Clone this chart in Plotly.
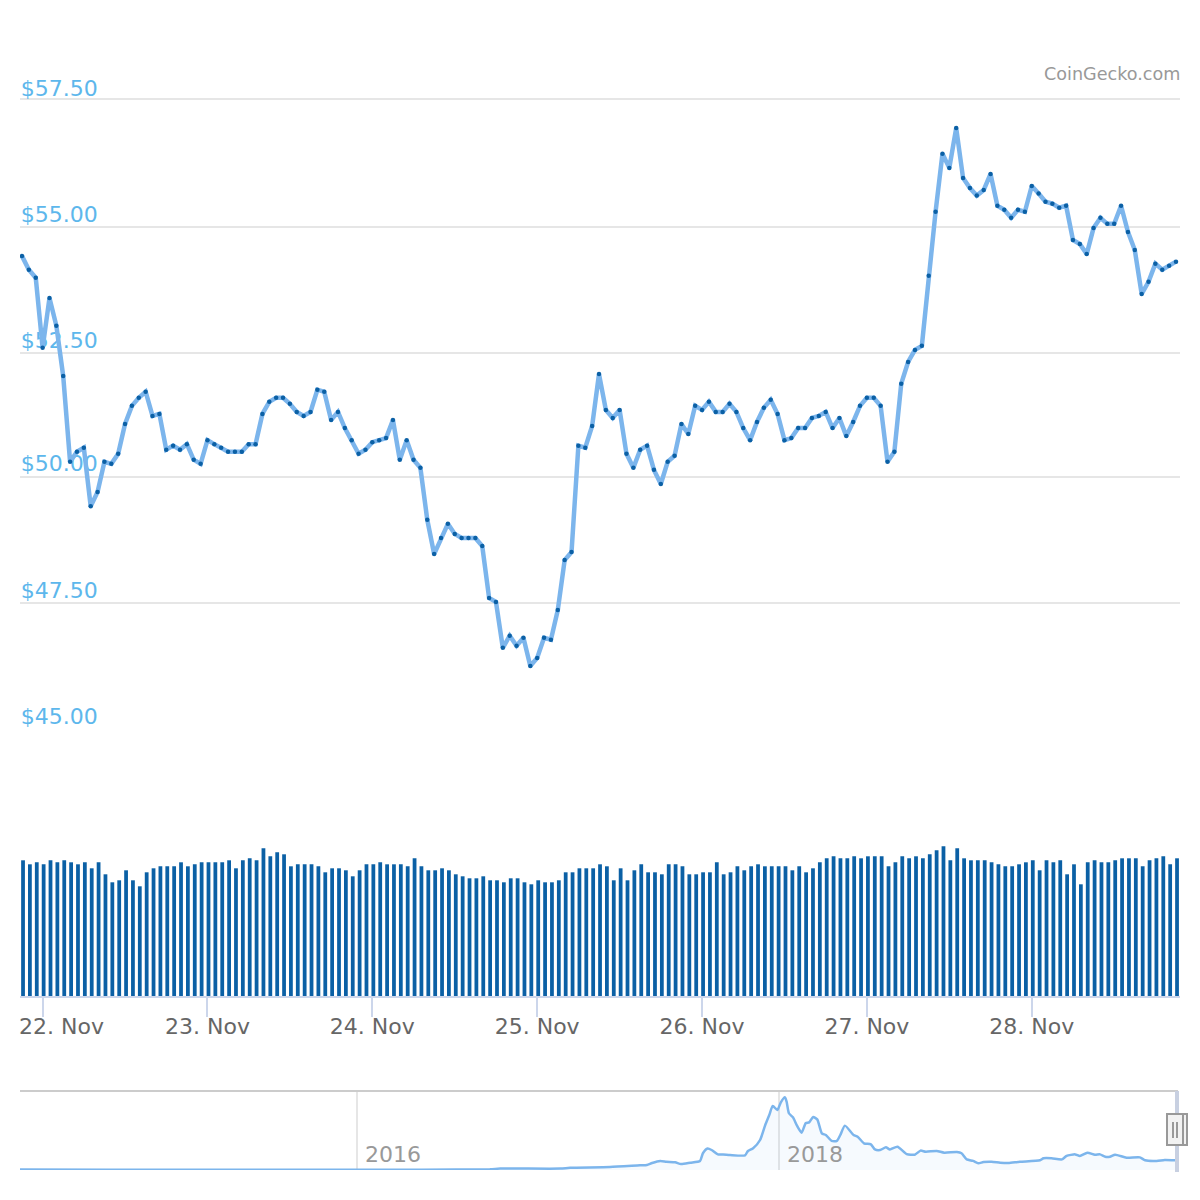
import pandas as pd
import plotly.graph_objects as go

# the page adds an 8px body margin, so the figure is 16px smaller than the window
WIDTH = 1184
HEIGHT = 1184
PAGE_MARGIN = 8

# hourly price
price = [
    54.38, 54.11, 53.95, 52.56, 53.55, 53.00, 52.00, 50.30, 50.50, 50.58,
    49.42, 49.70, 50.30, 50.26, 50.46, 51.05, 51.41, 51.57, 51.69, 51.21,
    51.25, 50.54, 50.62, 50.54, 50.65, 50.34, 50.26, 50.73, 50.65, 50.58,
    50.50, 50.50, 50.50, 50.65, 50.65, 51.25, 51.49, 51.57, 51.57, 51.45,
    51.29, 51.21, 51.29, 51.73, 51.69, 51.13, 51.29, 50.97, 50.73, 50.46,
    50.54, 50.69, 50.73, 50.77, 51.13, 50.34, 50.73, 50.34, 50.18, 49.15,
    48.47, 48.79, 49.07, 48.87, 48.79, 48.79, 48.79, 48.63, 47.60, 47.52,
    46.61, 46.85, 46.65, 46.81, 46.25, 46.41, 46.81, 46.77, 47.36, 48.35,
    48.51, 50.62, 50.58, 51.01, 52.04, 51.33, 51.17, 51.33, 50.46, 50.18,
    50.54, 50.62, 50.14, 49.86, 50.30, 50.42, 51.05, 50.85, 51.41, 51.33,
    51.49, 51.29, 51.29, 51.45, 51.29, 50.97, 50.73, 51.09, 51.37, 51.53,
    51.25, 50.73, 50.77, 50.97, 50.97, 51.17, 51.21, 51.29, 50.97, 51.17,
    50.81, 51.09, 51.41, 51.57, 51.57, 51.41, 50.30, 50.50, 51.85, 52.28,
    52.52, 52.60, 53.99, 55.26, 56.41, 56.13, 56.92, 55.93, 55.73, 55.58,
    55.69, 56.01, 55.38, 55.30, 55.14, 55.30, 55.26, 55.77, 55.62, 55.46,
    55.42, 55.34, 55.38, 54.70, 54.62, 54.42, 54.94, 55.14, 55.02, 55.02,
    55.38, 54.86, 54.50, 53.63, 53.87, 54.23, 54.11, 54.19, 54.27,
]

# the volume axis has no scale in the picture, so these are relative heights
volume = [
    135.7, 131.7, 133.7, 131.7, 135.7, 133.7, 135.7, 133.7, 131.7, 133.7,
    127.7, 133.7, 121.7, 113.7, 115.7, 125.7, 115.7, 109.7, 123.7, 127.7,
    129.7, 129.7, 129.7, 133.7, 129.7, 131.7, 133.7, 133.7, 133.7, 133.7,
    135.7, 127.7, 135.7, 137.7, 135.7, 147.7, 139.7, 143.7, 141.7, 129.7,
    131.7, 131.7, 131.7, 129.7, 123.7, 127.7, 127.7, 125.7, 119.7, 125.7,
    131.7, 131.7, 133.7, 131.7, 131.7, 131.7, 129.7, 137.7, 129.7, 125.7,
    125.7, 127.7, 125.7, 121.7, 119.7, 117.7, 117.7, 119.7, 115.7, 115.7,
    113.7, 117.7, 117.7, 113.7, 111.7, 115.7, 113.7, 113.7, 115.7, 123.7,
    123.7, 127.7, 127.7, 127.7, 131.7, 129.7, 115.7, 127.7, 115.7, 125.7,
    131.7, 123.7, 123.7, 121.7, 131.7, 131.7, 129.7, 121.7, 121.7, 123.7,
    123.7, 133.7, 121.7, 123.7, 129.7, 125.7, 129.7, 131.7, 129.7, 129.7,
    129.7, 129.7, 125.7, 129.7, 123.7, 127.7, 133.7, 137.7, 139.7, 137.7,
    137.7, 139.7, 137.7, 139.7, 139.7, 139.7, 129.7, 133.7, 139.7, 137.7,
    139.7, 137.7, 141.7, 145.7, 149.7, 135.7, 147.7, 137.7, 135.7, 135.7,
    135.7, 133.7, 131.7, 129.7, 129.7, 131.7, 133.7, 135.7, 125.7, 135.7,
    133.7, 135.7, 121.7, 131.7, 111.7, 133.7, 135.7, 133.7, 133.7, 135.7,
    137.7, 137.7, 137.7, 129.7, 135.7, 137.7, 139.7, 131.7, 137.7,
]

price_ticks = [45, 47.5, 50, 52.46, 54.96, 57.5]
price_labels = ["$45.00", "$47.50", "$50.00", "$52.50", "$55.00", "$57.50"]

day_ticks = ["2019-11-22", "2019-11-23", "2019-11-24", "2019-11-25",
             "2019-11-26", "2019-11-27", "2019-11-28"]
day_labels = ["22. Nov", "23. Nov", "24. Nov", "25. Nov", "26. Nov", "27. Nov", "28. Nov"]

# navigator: whole price history, days counted from 1 Jan 2016
nav_days = [
    -584, -428, -272, 5, 230, 248, 352, 369, 438, 490, 502, 511, 525, 536, 551,
    561, 577, 594, 599, 607, 614, 625, 634, 646, 672, 677, 686, 698, 707, 714,
    720, 728, 734, 741, 744, 748, 755, 762, 770, 777, 783, 790, 797, 805, 812,
    822, 831, 837, 845, 860, 867, 878, 890, 897, 906, 916, 923, 936, 952, 966,
    976, 985, 1004, 1017, 1039, 1047, 1056, 1067, 1076, 1085, 1099, 1114, 1128,
    1148, 1183, 1189, 1203, 1221, 1229, 1244, 1252, 1265, 1278, 1287, 1296,
    1304, 1313, 1333, 1356, 1365, 1385, 1399, 1417,
]
nav_price = [
    4, 2, 2, 1, 5, 9, 9, 14, 19, 30, 32, 45, 58, 53, 49,
    38, 47, 58, 107, 137, 128, 100, 100, 96, 94, 122, 139, 192, 288, 352,
    410, 384, 433, 465, 437, 363, 337, 284, 239, 299, 305, 339, 324, 235, 224,
    186, 186, 224, 284, 224, 213, 171, 164, 132, 128, 145, 132, 149, 102, 98,
    124, 117, 122, 111, 115, 107, 68, 58, 43, 51, 53, 47, 45,
    53, 62, 75, 75, 68, 90, 100, 90, 111, 98, 100, 85,
    85, 98, 79, 81, 62, 58, 64, 62,
]
nav_years = ["2016-01-01", "2018-01-01"]
nav_year_labels = ["2016", "2018"]

LINE_COLOR = "#7cb5ec"
DOT_COLOR = "#0b60a5"
GRID_COLOR = "#e6e6e6"
AXIS_COLOR = "#ccd6eb"
FONT = "DejaVu Sans"
HOUR_MS = 3600 * 1000

hours = pd.date_range("2019-11-21 21:00", periods=len(price), freq="h")
nav_dates = pd.Timestamp("2016-01-01") + pd.to_timedelta(nav_days, unit="D")
main_range = ["2019-11-21 20:42:32", "2019-11-28 21:34:56"]
nav_range = ["2014-05-27", "2019-11-23"]
# how far each price label is lifted above its grid line
label_lift = [0.218, 0.2, 0.218, 0.2, 0.2, 0.16]


def px_x(x):
    return (x - PAGE_MARGIN) / WIDTH


def px_y(y):
    return 1 - (y - PAGE_MARGIN) / HEIGHT


fig = go.Figure()

# labels go first so the price line is drawn over them
fig.add_trace(go.Scatter(
    x=["2019-11-21 20:50"] * len(price_ticks),
    y=[tick + lift for tick, lift in zip(price_ticks, label_lift)],
    text=price_labels,
    mode="text",
    textposition="middle right",
    textfont=dict(family=FONT, size=22, color="#5db7ec"),
    cliponaxis=False,
    hoverinfo="skip",
))
fig.add_trace(go.Scatter(
    x=hours,
    y=price,
    mode="lines+markers",
    line=dict(color=LINE_COLOR, width=4.5),
    marker=dict(color=DOT_COLOR, size=4.5),
))
fig.add_trace(go.Bar(
    x=hours,
    y=volume,
    yaxis="y2",
    width=0.55 * HOUR_MS,
    offset=-0.125 * HOUR_MS,
    marker=dict(color=DOT_COLOR, line=dict(width=0)),
))
fig.add_trace(go.Scatter(
    x=nav_dates,
    y=nav_price,
    xaxis="x2",
    yaxis="y3",
    mode="lines",
    line=dict(color=LINE_COLOR, width=2.5, shape="spline", smoothing=0.6),
    fill="tozeroy",
    fillcolor="rgba(124,181,236,0.07)",
))

fig.update_layout(
    width=WIDTH,
    height=HEIGHT,
    margin=dict(l=0, r=0, t=0, b=0),
    paper_bgcolor="white",
    plot_bgcolor="white",
    showlegend=False,
    font=dict(family=FONT),
    xaxis=dict(
        domain=[px_x(20), px_x(1180)],
        range=main_range,
        anchor="y2",
        type="date",
        showgrid=False,
        zeroline=False,
        showline=True,
        linecolor=AXIS_COLOR,
        linewidth=2,
        ticks="outside",
        ticklen=19,
        tickwidth=2,
        tickcolor=AXIS_COLOR,
        tickmode="array",
        tickvals=day_ticks,
        ticktext=[""] + day_labels[1:],
        tickangle=0,
        ticklabelstandoff=-9,
        tickfont=dict(family=FONT, size=22, color="#666666"),
    ),
    yaxis=dict(
        domain=[px_y(729), px_y(60)],
        range=[45, 58.27],
        anchor="x",
        tickmode="array",
        tickvals=price_ticks,
        showticklabels=False,
        showgrid=True,
        gridcolor=GRID_COLOR,
        gridwidth=2,
        zeroline=False,
    ),
    yaxis2=dict(
        domain=[px_y(996), px_y(836)],
        range=[0, 160],
        anchor="x",
        showticklabels=False,
        showgrid=False,
        zeroline=False,
    ),
    xaxis2=dict(
        domain=[px_x(20), px_x(1178)],
        range=nav_range,
        anchor="y3",
        type="date",
        tickmode="array",
        tickvals=nav_years,
        showticklabels=False,
        showgrid=True,
        gridcolor=GRID_COLOR,
        gridwidth=2,
        zeroline=False,
    ),
    yaxis3=dict(
        domain=[px_y(1170), px_y(1091)],
        range=[0, 505.6],
        anchor="x2",
        showticklabels=False,
        showgrid=False,
        zeroline=False,
    ),
)

fig.add_annotation(
    text="CoinGecko.com",
    xref="paper", yref="paper",
    x=px_x(1182), y=px_y(74),
    xanchor="right", yanchor="middle",
    showarrow=False,
    font=dict(family=FONT, size=17.6, color="#999999"),
)
# first day label sits to the right of its tick so it stays inside the plot
fig.add_annotation(
    text=day_labels[0],
    xref="x", yref="paper",
    x=day_ticks[0], y=px_y(1026),
    xanchor="center", yanchor="middle",
    xshift=19,
    showarrow=False,
    font=dict(family=FONT, size=22, color="#666666"),
)
for year_date, year_label in zip(nav_years, nav_year_labels):
    fig.add_annotation(
        text=year_label,
        xref="x2", yref="paper",
        x=year_date, y=px_y(1154),
        xanchor="left", yanchor="middle",
        xshift=6,
        showarrow=False,
        font=dict(family=FONT, size=22, color="#999999"),
    )


def add_box(x0, x1, y0, y1, fill=None, line=None, width=2):
    fig.add_shape(
        type="rect", xref="paper", yref="paper",
        x0=px_x(x0), x1=px_x(x1), y0=px_y(y0), y1=px_y(y1),
        fillcolor=fill,
        line=dict(color=line, width=width if line else 0),
    )


def add_rule(x0, x1, y0, y1, color, width=2):
    fig.add_shape(
        type="line", xref="paper", yref="paper",
        x0=px_x(x0), x1=px_x(x1), y0=px_y(y0), y1=px_y(y1),
        line=dict(color=color, width=width),
    )


# navigator frame and the handles at its right end
add_rule(20, 1178, 1091, 1091, "#cccccc")
add_box(1175, 1179, 1091, 1172, fill="#c8d0e1")
add_box(1171, 1187, 1114, 1145, fill="#f2f2f2", line="#999999")
add_box(1167, 1183, 1114, 1145, fill="#f2f2f2", line="#999999")
add_rule(1173, 1173, 1122, 1138, "#999999")
add_rule(1177, 1177, 1122, 1138, "#999999")

fig.write_html("out.html")
